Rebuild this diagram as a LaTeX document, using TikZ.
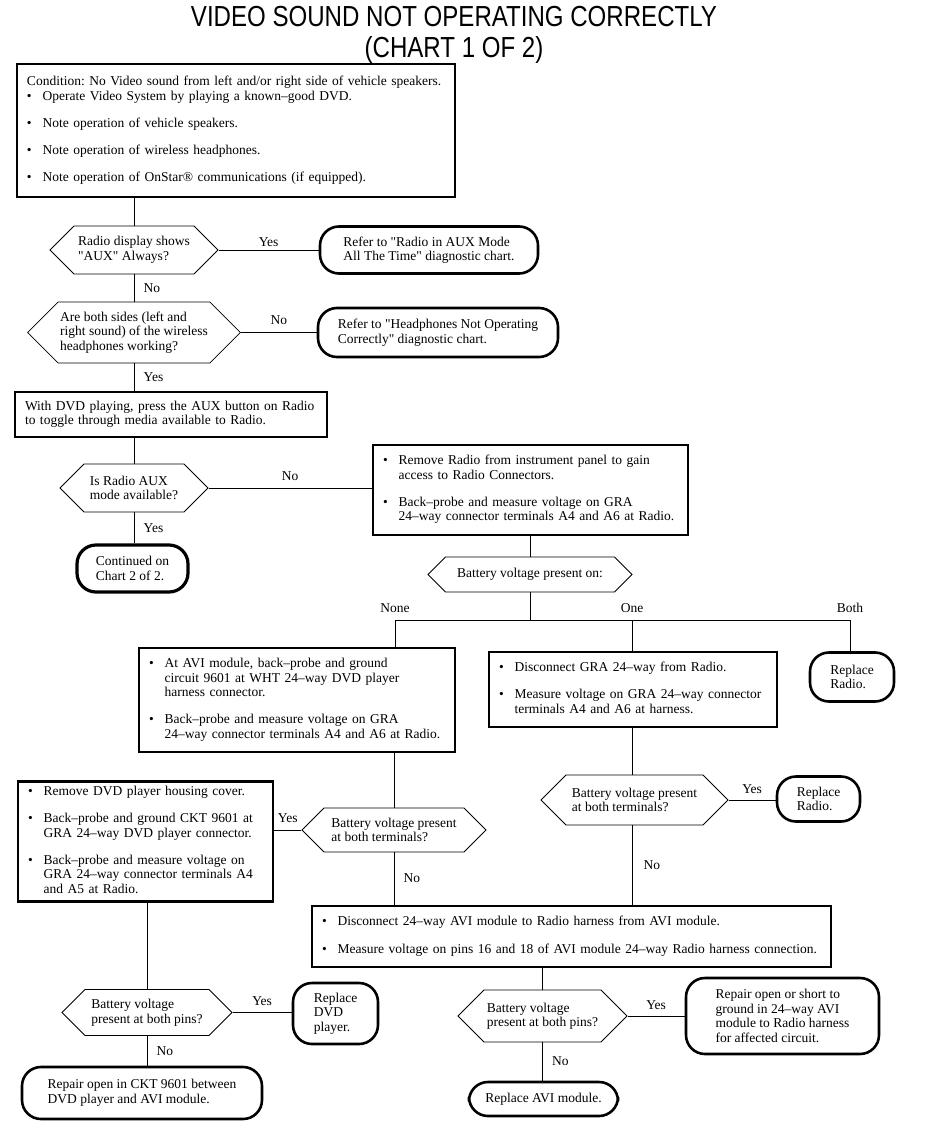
\documentclass[tikz,border=0pt]{standalone}
\usepackage{fontspec}
\setmainfont{Liberation Serif}
\newfontfamily\titlefont[FakeStretch=0.83]{Liberation Sans}
\usetikzlibrary{shapes.symbols}
\frenchspacing

\tikzset{
  stepbox/.style={draw, line width=2.4pt, inner xsep=10pt, inner ysep=4pt, align=left},
  query/.style={draw, line width=0.8pt, signal, signal to=west and east,
    signal pointer angle=90, inner xsep=2pt, inner ysep=3pt, align=left},
  endbox/.style={draw, line width=2.6pt, rounded corners=19pt, inner xsep=8pt, align=left},
  link/.style={line width=0.8pt},
}
\newcommand{\qt}{\textquotedbl}

\begin{document}
\begin{tikzpicture}
[x=1pt, y=-1pt, every node/.style={font=\fontsize{13.5}{14.5}\selectfont}]
 \useasboundingbox (0,0) rectangle (928,1134);

 \node[font=\titlefont\fontsize{29}{28}\selectfont, inner sep=0pt] (title) at (454,17)
   {VIDEO SOUND NOT OPERATING CORRECTLY};
 \node[font=\titlefont\fontsize{29}{28}\selectfont, inner sep=0pt] (chart) at (454,50)
   {(CHART 1 OF 2)};

 % condition and first checks
 \node[stepbox, text width=418pt, minimum height=133pt] (cond) at (236,130.5) {%
   \begin{tabular}{@{}l@{\hspace{11pt}}l@{}}
   \multicolumn{2}{@{}l@{}}{Condition: No Video sound from left and/or right side of vehicle speakers.}\\
   \textbullet & Operate Video System by playing a known–good DVD.\\[12.5pt]
   \textbullet & Note operation of vehicle speakers.\\[12.5pt]
   \textbullet & Note operation of wireless headphones.\\[12.5pt]
   \textbullet & Note operation of OnStar® communications (if equipped).
   \end{tabular}};
 \node[query, minimum width=168pt, minimum height=48pt] (auxq) at (134,250)
   {Radio display shows\\\qt AUX\qt{} Always?};
 \node[endbox, minimum width=218pt, minimum height=47pt] (auxend) at (429,250)
   {Refer to \qt Radio in AUX Mode\\All The Time\qt{} diagnostic chart.};
 \node[query, minimum width=212pt, minimum height=61pt] (hpq) at (134,332.5)
   {Are both sides (left and\\right sound) of the wireless\\headphones working?};
 \node[endbox, minimum width=240pt, minimum height=49pt] (hpend) at (438,332.5)
   {Refer to \qt Headphones Not Operating\\Correctly\qt{} diagnostic chart.};
 \node[stepbox, text width=292pt, minimum height=45pt] (toggle) at (171,414.5)
   {With DVD playing, press the AUX button on Radio\\to toggle through media available to Radio.};
 \node[query, minimum width=148pt, minimum height=48pt] (modeq) at (134,488)
   {Is Radio AUX\\mode available?};
 \node[endbox, line width=3.2pt, minimum width=111pt, minimum height=47pt] (chart2) at (132.5,568.5)
   {Continued on\\Chart 2 of 2.};
 \node[stepbox, text width=295pt, minimum height=90pt] (remove) at (530.5,490) {%
   \begin{tabular}{@{}l@{\hspace{11pt}}l@{}}
   \textbullet & Remove Radio from instrument panel to gain\\
               & access to Radio Connectors.\\[12.5pt]
   \textbullet & Back–probe and measure voltage on GRA\\
               & 24–way connector terminals A4 and A6 at Radio.
   \end{tabular}};
 \node[query, minimum width=204pt, minimum height=35pt] (battq) at (530,574.5)
   {Battery voltage present on:};

 % three branches
 \coordinate (none) at (395,620);
 \coordinate (one) at (632,620);
 \coordinate (both) at (850,620);
 \node[stepbox, text width=296pt, minimum height=104pt] (avi) at (297,700) {%
   \begin{tabular}{@{}l@{\hspace{11pt}}l@{}}
   \textbullet & At AVI module, back–probe and ground\\
               & circuit 9601 at WHT 24–way DVD player\\
               & harness connector.\\[12.5pt]
   \textbullet & Back–probe and measure voltage on GRA\\
               & 24–way connector terminals A4 and A6 at Radio.
   \end{tabular}};
 \node[stepbox, text width=268pt, minimum height=75pt] (disc) at (633,689.5) {%
   \begin{tabular}{@{}l@{\hspace{11pt}}l@{}}
   \textbullet & Disconnect GRA 24–way from Radio.\\[12.5pt]
   \textbullet & Measure voltage on GRA 24–way connector\\
               & terminals A4 and A6 at harness.
   \end{tabular}};
 \node[endbox, minimum width=84pt, minimum height=49pt] (radio1) at (852,677)
   {Replace\\Radio.};
 \node[query, minimum width=184pt, minimum height=44pt] (termq) at (394,830)
   {Battery voltage present\\at both terminals?};
 \node[stepbox, text width=235pt, minimum height=117pt] (cover) at (145.5,841.5) {%
   \begin{tabular}{@{}l@{\hspace{11pt}}l@{}}
   \textbullet & Remove DVD player housing cover.\\[12.5pt]
   \textbullet & Back–probe and ground CKT 9601 at\\
               & GRA 24–way DVD player connector.\\[12.5pt]
   \textbullet & Back–probe and measure voltage on\\
               & GRA 24–way connector terminals A4\\
               & and A5 at Radio.
   \end{tabular}};
 \node[query, minimum width=187pt, minimum height=50pt] (harnq) at (634.5,800)
   {Battery voltage present\\at both terminals?};
 \node[endbox, minimum width=83pt, minimum height=45pt] (radio2) at (818.5,799)
   {Replace\\Radio.};
 \node[stepbox, text width=499pt, minimum height=61pt] (pins) at (571.5,936.5) {%
   \begin{tabular}{@{}l@{\hspace{11pt}}l@{}}
   \textbullet & Disconnect 24–way AVI module to Radio harness from AVI module.\\[13.5pt]
   \textbullet & Measure voltage on pins 16 and 18 of AVI module 24–way Radio harness connection.
   \end{tabular}};

 % last checks
 \node[query, minimum width=170pt, minimum height=46pt] (dvdq) at (147,1012.5)
   {Battery voltage\\present at both pins?};
 \node[endbox, minimum width=85pt, minimum height=61pt] (dvdend) at (335.5,1013.5)
   {Replace\\DVD\\player.};
 \node[endbox, minimum width=240pt, minimum height=52pt] (ckt) at (142,1093)
   {Repair open in CKT 9601 between\\DVD player and AVI module.};
 \node[query, minimum width=169pt, minimum height=52pt] (aviq) at (542.5,1016)
   {Battery voltage\\present at both pins?};
 \node[endbox, minimum width=193pt, minimum height=76pt] (short) at (782.5,1016)
   {Repair open or short to\\ground in 24–way AVI\\module to Radio harness\\for affected circuit.};
 \node[endbox, minimum width=149pt, minimum height=34pt] (avimod) at (543.5,1099)
   {Replace AVI module.};

 \draw[link] (auxq.north |- cond.south) -- (auxq.north);
 \draw[link] (auxq.east) -- node[above] {Yes} (auxq.east -| auxend.west);
 \draw[link] (auxq.south) -- node[right=6pt] {No} (hpq.north);
 \draw[link] (hpq.east) -- node[above=4pt] {No} (hpq.east -| hpend.west);
 \draw[link] (hpq.south) -- node[right=6pt] {Yes} (hpq.south |- toggle.north);
 \draw[link] (modeq.north |- toggle.south) -- (modeq.north);
 \draw[link] (modeq.east) -- node[above=4pt] {No} (modeq.east -| remove.west);
 \draw[link] (modeq.south) -- node[right=6pt] {Yes} (modeq.south |- chart2.north);
 \draw[link] (battq.north |- remove.south) -- (battq.north);
 \draw[link] (battq.south) -- (battq.south |- none);
 \draw[link] (none) -- (both);
 \draw[link] (none) node[above=4pt] {None} -- (none |- avi.north);
 \draw[link] (one) node[above=4pt] {One} -- (one |- disc.north);
 \draw[link] (both) node[above=4pt] {Both} -- (both |- radio1.north);
 \draw[link] (termq.north |- avi.south) -- (termq.north);
 \draw[link] (termq.west) -- node[above=4pt] {Yes} (termq.west -| cover.east);
 \draw[link] (termq.south) -- node[right=6pt] {No} (termq.south |- pins.north);
 \draw[link] (one |- disc.south) -- (one |- harnq.north);
 \draw[link] (harnq.east) -- node[above=3pt] {Yes} (harnq.east -| radio2.west);
 \draw[link] (one |- harnq.south) -- node[right=8pt] {No} (one |- pins.north);
 \draw[link] (dvdq.north |- cover.south) -- (dvdq.north);
 \draw[link] (dvdq.east) -- node[above=3pt] {Yes} (dvdq.east -| dvdend.west);
 \draw[link] (dvdq.south) -- node[right=6pt] {No} (dvdq.south |- ckt.north);
 \draw[link] (aviq.north |- pins.south) -- (aviq.north);
 \draw[link] (aviq.east) -- node[above=3pt] {Yes} (aviq.east -| short.west);
 \draw[link] (aviq.south) -- node[right=6pt] {No} (aviq.south |- avimod.north);
\end{tikzpicture}
\end{document}
